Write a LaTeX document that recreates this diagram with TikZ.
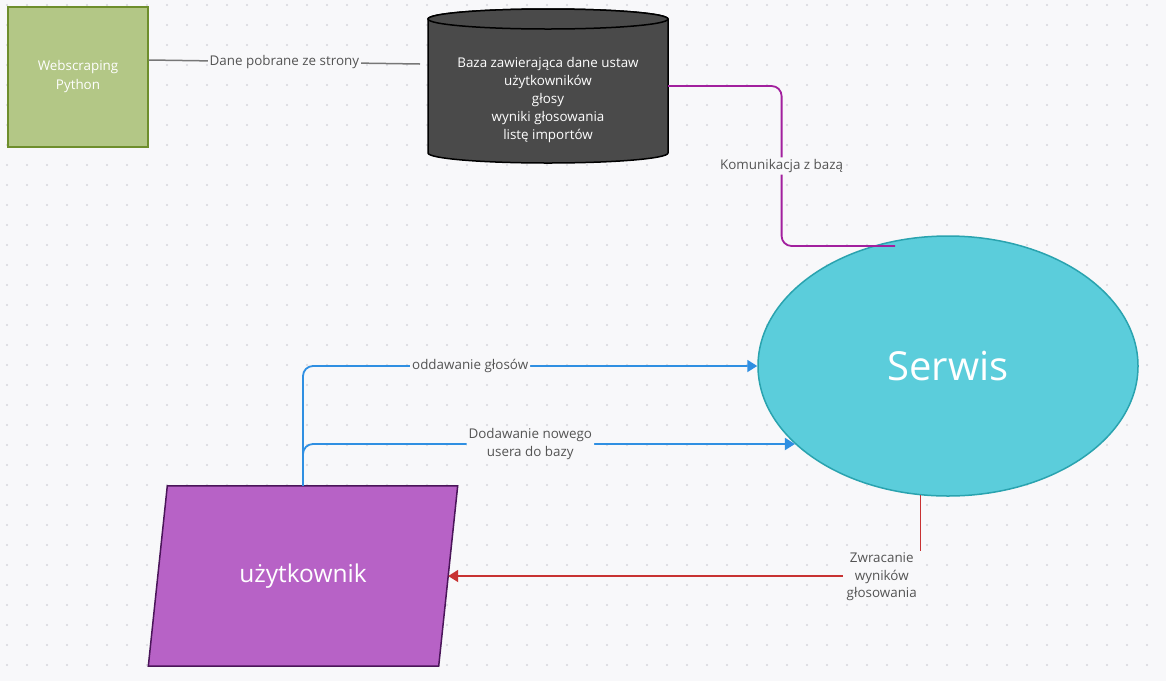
\documentclass[tikz,border=0pt]{standalone}
\usepackage{fontspec}
\setmainfont{Open Sans}
\usetikzlibrary{calc,arrows.meta,shapes.geometric}
\definecolor{bg}{HTML}{F8F8FA}
\definecolor{dot}{HTML}{D6D6DC}
\definecolor{webfill}{HTML}{B3C786}
\definecolor{webdraw}{HTML}{6E8E2C}
\definecolor{dbfill}{HTML}{4A4A4A}
\definecolor{serwisfill}{HTML}{5BCDDB}
\definecolor{serwisdraw}{HTML}{2AA3AF}
\definecolor{userfill}{HTML}{B762C6}
\definecolor{userdraw}{HTML}{4A1559}
\definecolor{labeltext}{HTML}{545454}
\definecolor{greyline}{HTML}{777777}
\definecolor{magenta}{HTML}{A2209E}
\definecolor{blueline}{HTML}{2F8FE2}
\definecolor{redline}{HTML}{C83232}
\tikzset{
  lbl/.style={fill=bg, text=labeltext, font=\fontsize{13.4}{17.5}\selectfont, inner sep=2pt, align=center},
  webbox/.style={draw=webdraw, fill=webfill, line width=1.5pt, minimum width=140pt, minimum height=140pt,
    text=white, font=\fontsize{13.4}{19}\selectfont, align=center},
  dbbox/.style={minimum width=240pt, minimum height=154pt, inner sep=0pt},
  dbshape/.style={draw=black, fill=dbfill, line width=1.5pt},
  dbtext/.style={text=white, font=\fontsize{13.4}{18}\selectfont, align=center},
  serwisbox/.style={ellipse, draw=serwisdraw, fill=serwisfill, line width=1.5pt, minimum width=380pt,
    minimum height=260pt, inner sep=0pt, text=white, font=\fontsize{40}{44}\selectfont},
  userbox/.style={minimum width=290pt, minimum height=180pt, inner sep=0pt},
  usershape/.style={draw=userdraw, fill=userfill, line width=1.5pt},
  usertext/.style={text=white, font=\fontsize{24.5}{28}\selectfont},
  greyconn/.style={draw=greyline, line width=1.5pt},
  dbline/.style={draw=magenta, line width=1.8pt, rounded corners=10pt},
  voteline/.style={draw=blueline, line width=1.8pt, rounded corners=10pt, -{Triangle[length=10pt,width=12pt]}},
  resultline/.style={draw=redline, line width=1.8pt, -{Triangle[length=10pt,width=12pt]}},
}
\begin{document}
\begin{tikzpicture}[x=1pt,y=-1pt]
% background and dot grid
\fill[bg] (0,0) rectangle (1166,681);
\foreach \x in {7,27,...,1166}
  \foreach \y in {5,25,...,681}
    \fill[dot] (\x,\y) circle[radius=1.1pt];

% webscraper
\node[webbox] (web) at (78,77) {Webscraping\\Python};

% database cylinder
\node[dbbox] (db) at (548,86) {};
\filldraw[dbshape] (428,19) -- (428,153) arc[start angle=180, end angle=0, x radius=120, y radius=10]
  -- (668,19) arc[start angle=0, end angle=-180, x radius=120, y radius=10] -- cycle;
\draw[dbshape] (548,19) ellipse[x radius=120, y radius=10];
\node[dbtext] (dbtext) at (548,100) {Baza zawierająca dane ustaw\\użytkowników\\głosy\\wyniki głosowania\\listę importów};

% service
\node[serwisbox] (serwis) at (948,366) {Serwis};

% user
\node[userbox] (user) at (303,576) {};
\filldraw[usershape] ([xshift=9.5pt]user.north west) -- ([xshift=9.5pt]user.north east)
  -- ([xshift=-9.5pt]user.south east) -- ([xshift=-9.5pt]user.south west) -- cycle;
\node[usertext] (userlabel) at (user) {użytkownik};

% connectors
\coordinate (scrapeend) at (420,64);
\draw[greyconn] ([yshift=17pt]web.east) -- node[lbl] {Dane pobrane ze strony} (scrapeend);

\coordinate (dbend) at (895,246);
\coordinate (dbmid) at ($(db.east)!.5!(dbend)$);
\draw[dbline] (db.east) -| (dbmid) node[lbl] {Komunikacja z bazą} |- (dbend);

\draw[voteline] (user.north) |- node[lbl, pos=.684] {oddawanie głosów} (serwis.west);
\draw[voteline] (user.north) |- node[lbl, pos=.731] {Dodawanie nowego\\usera do bazy} (serwis.207);
\draw[resultline] (serwis.258) |- node[lbl, pos=.541, inner xsep=4pt, yshift=-1pt] {Zwracanie\\wyników\\głosowania} (user.east);
\end{tikzpicture}
\end{document}
